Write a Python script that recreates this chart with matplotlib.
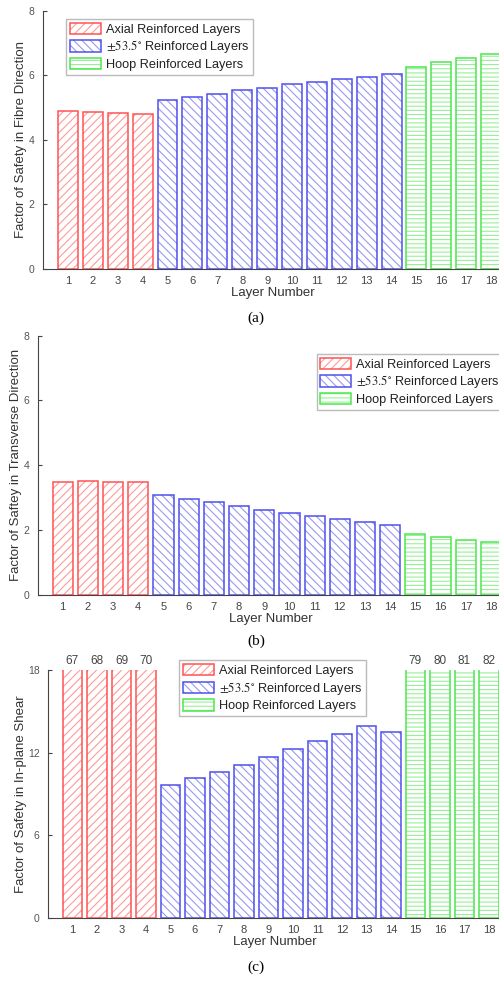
import matplotlib
matplotlib.use("Agg")
import matplotlib.pyplot as plt

plt.rcParams['font.family'] = ['Liberation Sans', 'DejaVu Sans']
plt.rcParams['mathtext.fontset'] = 'stix'
plt.rcParams['hatch.linewidth'] = 0.8

# layer numbers and groups
layers = [1, 2, 3, 4, 5, 6, 7, 8, 9, 10, 11, 12, 13, 14, 15, 16, 17, 18]
axial = [1, 2, 3, 4]
helical = [5, 6, 7, 8, 9, 10, 11, 12, 13, 14]
hoop = [15, 16, 17, 18]

# factor of safety per layer
fibre = [4.90, 4.87, 4.83, 4.82, 5.23, 5.33, 5.43, 5.54, 5.62, 5.73,
         5.80, 5.88, 5.95, 6.05, 6.27, 6.41, 6.53, 6.66]
transverse = [3.50, 3.51, 3.50, 3.48, 3.08, 2.96, 2.86, 2.74, 2.63, 2.54,
              2.45, 2.34, 2.25, 2.17, 1.87, 1.79, 1.71, 1.65]
shear = [67, 68, 69, 70, 9.62, 10.13, 10.59, 11.12, 11.68, 12.23,
         12.81, 13.37, 13.95, 13.52, 79, 80, 81, 82]

group_names = ['Axial Reinforced Layers',
               r'$\pm53.5^{\circ}$ Reinforced Layers',
               'Hoop Reinforced Layers']
edge_colors = ['#ff5252', '#5050ec', '#4ee64e']
hatch_colors = ['#ff9a9a', '#9898f2', '#98f098']
group_hatch = ['////', '\\\\\\\\', '----']

fig = plt.figure(figsize=(4.99, 9.82), dpi=100)


def panel(rect, values, ylabel, ymax, yticks, leg_loc, leg_anchor):
    ax = fig.add_axes(rect)
    handles = []
    for members, name, ec, hc, h in zip([axial, helical, hoop], group_names,
                                        edge_colors, hatch_colors, group_hatch):
        vals = [values[layers.index(m)] for m in members]
        b1 = ax.bar(members, vals, width=0.8, facecolor='white',
                    edgecolor=hc, hatch=h, linewidth=0)
        b2 = ax.bar(members, vals, width=0.8, fill=False,
                    edgecolor=ec, linewidth=1.1)
        handles.append((b1, b2))
    ax.set_xlim(0, 18.5)
    ax.set_ylim(0, ymax)
    ax.set_xticks(layers)
    ax.set_yticks(yticks)
    ax.tick_params(axis='x', length=0, pad=5, labelsize=8, labelcolor='#444')
    ax.tick_params(axis='y', direction='in', length=3, pad=6, labelsize=7.5,
                   labelcolor='#555', color='#444')
    for s in ['top', 'right']:
        ax.spines[s].set_visible(False)
    for s in ['left', 'bottom']:
        ax.spines[s].set_color('#444')
    ax.set_xlabel('Layer Number', fontsize=9.5, color='#333', labelpad=1)
    ax.set_ylabel(ylabel, fontsize=9.5, color='#333', labelpad=1)
    leg = ax.legend(handles=handles, labels=group_names, loc=leg_loc,
                    bbox_to_anchor=leg_anchor,
                    fancybox=False, edgecolor='#aaa', fontsize=9.2,
                    handlelength=2.4, handleheight=1.0, handletextpad=0.4,
                    labelspacing=0.2, borderpad=0.3, borderaxespad=0)
    leg.get_frame().set_linewidth(1.0)
    for t in leg.get_texts():
        t.set_color('#222')
    return ax


panel([0.0862, 0.7261, 0.923, 0.2627], fibre,
      'Factor of Safety in Fibre Direction', 8, [0, 2, 4, 6, 8],
      'upper left', (0.05, 0.97))
fig.text(0.513, 0.676, '(a)', family='Liberation Serif', fontsize=11,
         ha='center', va='center')

panel([0.0752, 0.3941, 0.934, 0.2641], transverse,
      'Factor of Saftey in Transverse Direction', 8, [0, 2, 4, 6, 8],
      'upper right', (1.0, 0.93))
fig.text(0.513, 0.347, '(b)', family='Liberation Serif', fontsize=11,
         ha='center', va='center')

ax3 = panel([0.0962, 0.0655, 0.908, 0.2522], shear,
            'Factor of Safety in In-plane Shear', 18, [0, 6, 12, 18],
            'upper left', (0.29, 1.04))
for x, v in zip(layers, shear):
    if v > 18:
        ax3.text(x, 18.68, str(v), ha='center', va='center', fontsize=8.5,
                 color='#444', clip_on=False)
fig.text(0.513, 0.015, '(c)', family='Liberation Serif', fontsize=11,
         ha='center', va='center')

fig.savefig('out.png', dpi=100, facecolor='white')
